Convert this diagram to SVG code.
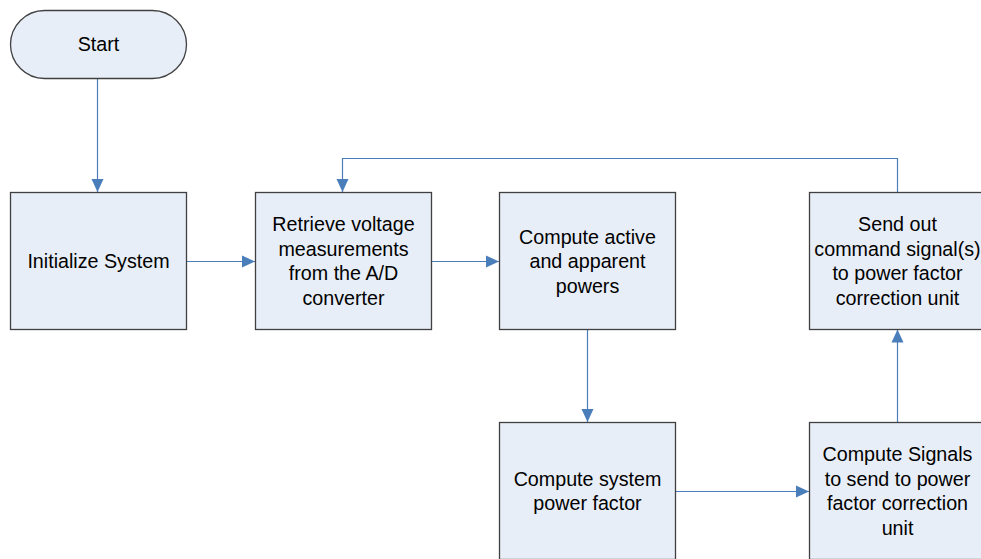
<svg xmlns="http://www.w3.org/2000/svg" width="981" height="559" viewBox="0 0 981 559">
<defs>
<style>
.n{fill:#E8EEF7;stroke:#404040;stroke-width:1.3}
.t{font-family:"Liberation Sans",Arial,sans-serif;font-size:19.7px;fill:#000;text-anchor:middle;dominant-baseline:central}
.c{fill:none;stroke:#4A7EBB;stroke-width:1.2}
</style>
<marker id="a" markerUnits="userSpaceOnUse" markerWidth="14" markerHeight="14" viewBox="0 0 14 14" refX="13" refY="7" orient="auto">
<path d="M0,1 L13,7 L0,13 Z" fill="#4A7EBB"/>
</marker>
</defs>
<rect width="981" height="559" fill="#fff"/>
<g id="connectors">
<path class="c" d="M97.5,78 V192" marker-end="url(#a)"/>
<path class="c" d="M186.5,261.5 H255" marker-end="url(#a)"/>
<path class="c" d="M431.5,261.5 H499" marker-end="url(#a)"/>
<path class="c" d="M587.5,329.5 V422" marker-end="url(#a)"/>
<path class="c" d="M675.5,491.5 H809" marker-end="url(#a)"/>
<path class="c" d="M897.5,422 V329.5" marker-end="url(#a)"/>
<path class="c" d="M897.5,192.5 V158.5 H342.5 V192" marker-end="url(#a)"/>
</g>
<g id="start">
<rect class="n" x="10.5" y="10.5" width="176" height="68" rx="34" ry="34"/>
<text class="t" x="98.5" y="43.5">Start</text>
</g>
<g id="init">
<rect class="n" x="10.5" y="192.5" width="176" height="137"/>
<text class="t" x="98.5" y="261">Initialize System</text>
</g>
<g id="retrieve">
<rect class="n" x="255.5" y="192.5" width="176" height="137"/>
<text class="t" x="343.5" y="224">Retrieve voltage</text>
<text class="t" x="343.5" y="248.5">measurements</text>
<text class="t" x="343.5" y="273">from the A/D</text>
<text class="t" x="343.5" y="297.5">converter</text>
</g>
<g id="active">
<rect class="n" x="499.5" y="192.5" width="176" height="137"/>
<text class="t" x="587.5" y="236.5">Compute active</text>
<text class="t" x="587.5" y="261">and apparent</text>
<text class="t" x="587.5" y="285.5">powers</text>
</g>
<g id="sendout">
<rect class="n" x="809.5" y="192.5" width="176" height="137"/>
<text class="t" x="897.5" y="224">Send out</text>
<text class="t" x="897.5" y="248.5">command signal(s)</text>
<text class="t" x="897.5" y="273">to power factor</text>
<text class="t" x="897.5" y="297.5">correction unit</text>
</g>
<g id="pf">
<rect class="n" x="499.5" y="422.5" width="176" height="137"/>
<text class="t" x="587.5" y="478.5">Compute system</text>
<text class="t" x="587.5" y="503">power factor</text>
</g>
<g id="signals">
<rect class="n" x="809.5" y="422.5" width="176" height="137"/>
<text class="t" x="897.5" y="454">Compute Signals</text>
<text class="t" x="897.5" y="478.5">to send to power</text>
<text class="t" x="897.5" y="503">factor correction</text>
<text class="t" x="897.5" y="527.5">unit</text>
</g>
</svg>
